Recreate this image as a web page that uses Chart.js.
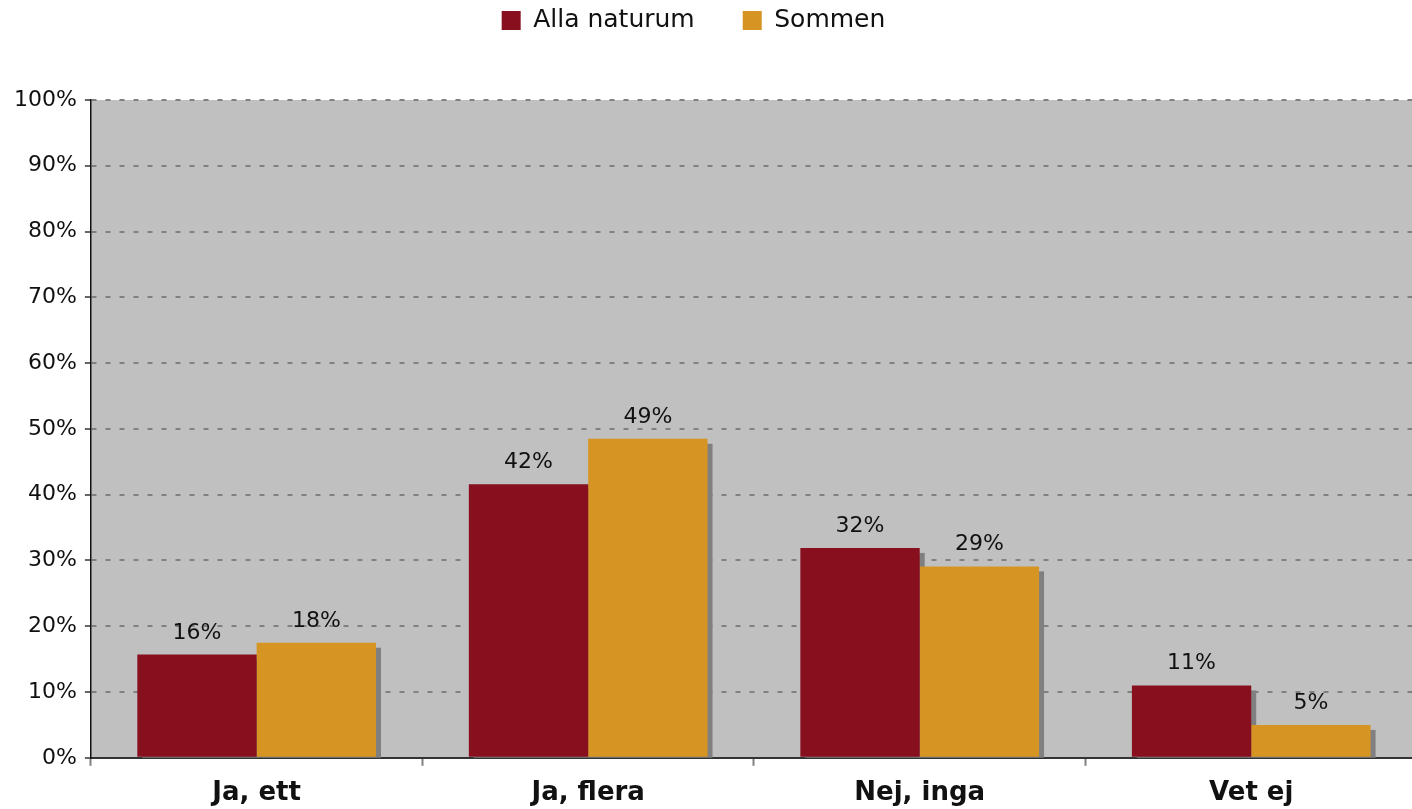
<!DOCTYPE html>
<html>
<head>
<meta charset="utf-8">
<script src="https://cdn.jsdelivr.net/npm/chart.js@4/dist/chart.umd.min.js"></script>
<style>
  html, body { margin: 0; padding: 0; background: #fff; overflow: hidden; }
  #wrap { width: 1417px; height: 823px; }
</style>
</head>
<body>
<div id="wrap"><canvas id="barChart"></canvas></div>
<script>
// chart data
const categories = ["Ja, ett", "Ja, flera", "Nej, inga", "Vet ej"];
const allaNaturum = [15.7, 41.6, 31.9, 11.0];
const sommen = [17.5, 48.5, 29.1, 5.0];
const yTicks = [0, 10, 20, 30, 40, 50, 60, 70, 80, 90, 100];

const FONT = "'DejaVu Sans', sans-serif";

// grey drop shadow behind each bar (drawn before bars so neighbours cover it)
const barShadow = {
  id: "barShadow",
  beforeDatasetsDraw(chart) {
    const { ctx, chartArea } = chart;
    ctx.save();
    ctx.beginPath();
    ctx.rect(chartArea.left, chartArea.top, chartArea.right - chartArea.left, chartArea.bottom - chartArea.top);
    ctx.clip();
    ctx.fillStyle = "#808080";
    chart.data.datasets.forEach((ds, i) => {
      chart.getDatasetMeta(i).data.forEach(bar => {
        const w = bar.width;
        ctx.fillRect(bar.x - w / 2 + 5, bar.y + 5, w, bar.base - bar.y);
      });
    });
    ctx.restore();
  }
};

// value labels above bars
const valueLabels = {
  id: "valueLabels",
  afterDatasetsDraw(chart) {
    const { ctx } = chart;
    ctx.save();
    ctx.font = "22px " + FONT;
    ctx.fillStyle = "#111";
    ctx.textAlign = "center";
    ctx.textBaseline = "alphabetic";
    chart.data.datasets.forEach((ds, i) => {
      chart.getDatasetMeta(i).data.forEach((bar, j) => {
        ctx.fillText(Math.round(ds.data[j]) + "%", bar.x, bar.y - 16);
      });
    });
    ctx.restore();
  }
};

// push the plot area down below the legend, and nudge the legend into place
const legendGap = {
  id: "legendGap",
  beforeInit(chart) {
    const fit = chart.legend.fit;
    chart.legend.fit = function () {
      fit.bind(chart.legend)();
      this.height = 100;
    };
  },
  afterLayout(chart) {
    const lg = chart.legend;
    lg.top -= 40;
    lg.bottom -= 40;
    lg.left -= 18;
    lg.right -= 18;
  }
};

const ctx = document.getElementById("barChart").getContext("2d");
new Chart(ctx, {
  type: "bar",
  data: {
    labels: categories,
    datasets: [
      { label: "Alla naturum", data: allaNaturum, backgroundColor: "#870F1E" },
      { label: "Sommen", data: sommen, backgroundColor: "#D69522" }
    ]
  },
  options: {
    responsive: true,
    maintainAspectRatio: false,
    animation: false,
    devicePixelRatio: 1,
    layout: { padding: { left: 6, right: 0, top: 0, bottom: 2 } },
    datasets: { bar: { categoryPercentage: 0.72, barPercentage: 1.0 } },
    plugins: {
      legend: {
        position: "top",
        labels: {
          boxWidth: 19,
          boxHeight: 19,
          padding: 48,
          color: "#111",
          font: { family: FONT, size: 25 }
        }
      },
      tooltip: { enabled: false }
    },
    scales: {
      x: {
        grid: {
          display: true,
          drawOnChartArea: false,
          drawTicks: true,
          tickLength: 8,
          tickColor: "#808080",
          tickWidth: 2
        },
        border: { display: true, color: "#333", width: 2 },
        ticks: {
          color: "#111",
          padding: 12,
          font: { family: FONT, size: 26, weight: "bold" }
        }
      },
      y: {
        min: 0,
        max: 100,
        afterBuildTicks(scale) {
          scale.ticks = yTicks.map(v => ({ value: v }));
        },
        grid: {
          color: "#808080",
          lineWidth: 2,
          tickLength: 6,
          tickColor: "#333",
          tickWidth: 1.5,
          drawTicks: true
        },
        border: { display: true, color: "#111", width: 1.5, dash: [5, 9] },
        ticks: {
          color: "#111",
          padding: 8,
          font: { family: FONT, size: 22 },
          callback: v => v + "%"
        }
      }
    }
  },
  plugins: [
    legendGap,
    {
      id: "plotBg",
      beforeDraw(chart) {
        const { ctx, chartArea } = chart;
        ctx.save();
        ctx.fillStyle = "#C0C0C0";
        ctx.fillRect(chartArea.left, chartArea.top, chartArea.right - chartArea.left, chartArea.bottom - chartArea.top);
        ctx.restore();
      }
    },
    barShadow,
    valueLabels
  ]
});
</script>
</body>
</html>
